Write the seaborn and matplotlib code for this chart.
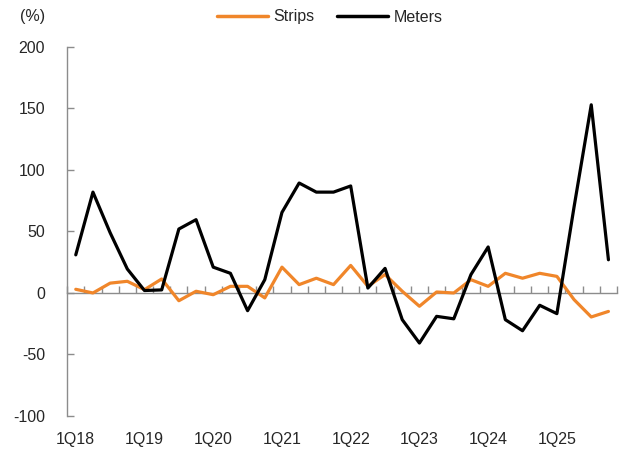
import numpy as np
import pandas as pd
import matplotlib
matplotlib.use("Agg")
import matplotlib.pyplot as plt
import matplotlib.transforms as mtransforms
from matplotlib.lines import Line2D
import seaborn as sns

quarters = [f"{q}Q{y:02d}" for y in range(18, 26) for q in range(1, 5)]
strips = [3, 0, 8, 9.5, 2.7, 11.4, -6.3, 1.4, -1.4, 5.4, 5.4, -4, 21, 6.8, 12, 6.8,
          22.4, 5.4, 15, 1.4, -10.8, 0.8, 0, 10.8, 5.4, 16, 12, 16, 13.5, -5.4, -19.5, -15]
meters = [31, 82, 49, 19.5, 2, 2.5, 52, 59.6, 21, 16, -14.4, 10.8, 65.5, 89.4, 82, 82,
          87, 4, 20, -21.7, -40.7, -19, -21, 15, 37.4, -21.7, -30.7, -10, -16.8, 70, 153, 27]
series_names = ["Strips", "Meters"]
colors = ["#F0862A", "#000000"]
yticks = [-100, -50, 0, 50, 100, 150, 200]

df = pd.DataFrame({
    "idx": list(range(len(quarters))) * 2,
    "value": strips + meters,
    "series": [series_names[0]] * len(quarters) + [series_names[1]] * len(quarters),
})

sns.set_theme(style="white")
plt.rcParams["font.family"] = ["Liberation Sans", "DejaVu Sans"]

fig = plt.figure(figsize=(6.22, 4.5), dpi=100)
ax = fig.add_axes([0.108, 0.0756, 0.884, 0.82])

sns.lineplot(data=df, x="idx", y="value", hue="series", palette=colors,
             linewidth=2.3, ax=ax, legend=False)

ax.set_xlim(-0.5, len(quarters) - 0.5)
ax.set_ylim(-100, 200)
ax.set_yticks(yticks)
ax.set_yticklabels([str(v) for v in yticks], fontsize=11.5)
ax.set_xlabel("")
ax.set_ylabel("")

grey = "#8c8c8c"
for s in ["top", "right"]:
    ax.spines[s].set_visible(False)
ax.spines["left"].set_color(grey)
ax.spines["left"].set_linewidth(1.0)
ax.spines["bottom"].set_position(("data", 0))
ax.spines["bottom"].set_color(grey)
ax.spines["bottom"].set_linewidth(1.0)
ax.spines["bottom"].set_zorder(1)

ax.tick_params(axis="y", left=True, direction="in", length=5, width=1.0, color=grey,
               pad=16, labelsize=11.5)
ax.set_xticks([])
ax.set_xticks(np.arange(-0.5, len(quarters), 1.0), minor=True)
ax.tick_params(axis="x", which="minor", bottom=True, direction="in", length=5,
               color=grey, width=1.0)

trans = mtransforms.blended_transform_factory(ax.transData, ax.transAxes)
for i in range(0, len(quarters), 4):
    ax.text(i, -0.065, quarters[i], transform=trans, ha="center", va="center", fontsize=11.5)

fig.text(20 / 622, 1 - 17 / 450, "(%)", ha="left", va="center", fontsize=11.5)

handles = [Line2D([], [], color=c, lw=2.5) for c in colors]
fig.legend(handles, series_names, loc="center", bbox_to_anchor=(330 / 622, 1 - 17 / 450),
           ncol=2, frameon=False, fontsize=11.5, handlelength=3.2, handletextpad=0.35,
           columnspacing=1.4)

fig.savefig("out.png", dpi=100)
